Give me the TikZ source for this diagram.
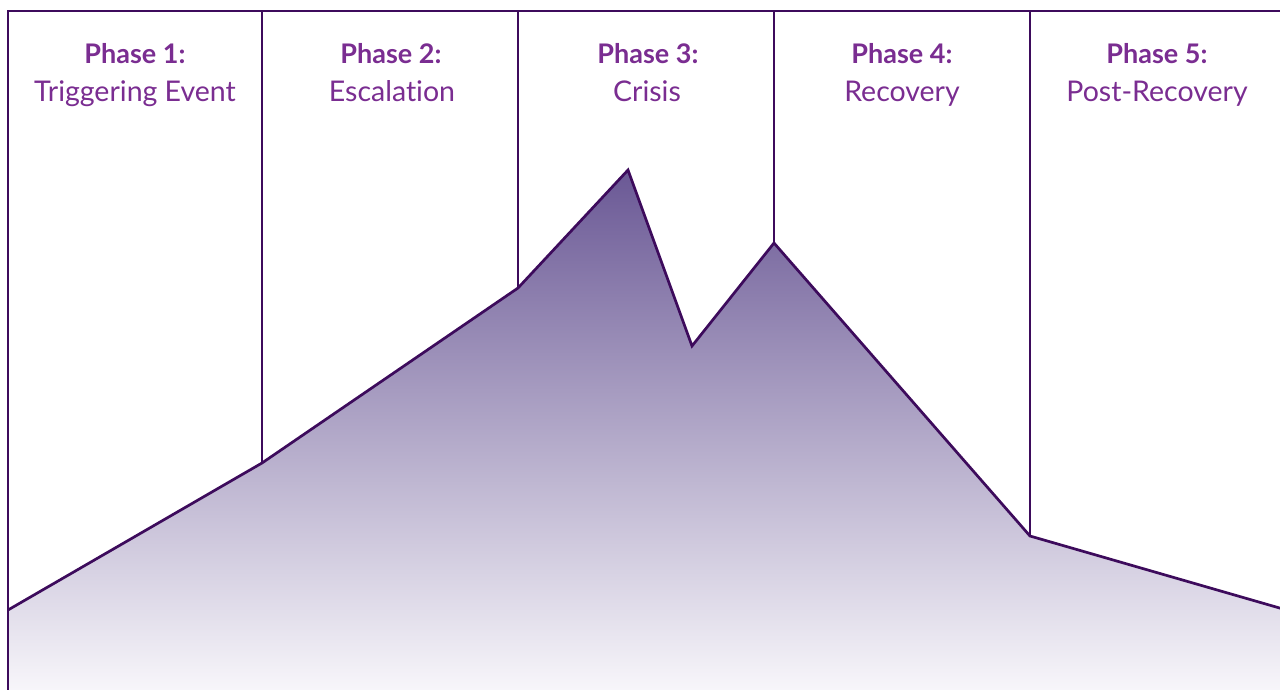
\documentclass[tikz,border=0pt]{standalone}
\usepackage{fontspec}
\setmainfont{Lato}[Ligatures={NoCommon,TeX}]
\definecolor{edge}{HTML}{3D0B5C}
\definecolor{label}{HTML}{7A2D91}
\definecolor{peak}{HTML}{6A5895}
\definecolor{base}{HTML}{FAF9FC}
\tikzset{
	title/.style={text=label, anchor=base, inner sep=0pt, font=\bfseries\fontsize{27}{32}\selectfont},
	subtitle/.style={text=label, anchor=base, inner sep=0pt, font=\fontsize{28.5}{34}\selectfont},
	border/.style={draw=edge, line width=2.7pt}
}
\begin{document}
\begin{tikzpicture}[x=1pt, y=-1pt]

	\useasboundingbox (0,0) rectangle (1280,689);
	\clip (0,0) rectangle (1280,689);

	% curve of the crisis
	\coordinate (P-0) at (8,610);
	\coordinate (P-1) at (262,463);
	\coordinate (P-2) at (518,288);
	\coordinate (P-3) at (628,170);
	\coordinate (P-4) at (692,346);
	\coordinate (P-5) at (774,243);
	\coordinate (P-6) at (1030,536);
	\coordinate (P-7) at (1290,611);

	\shade [top color=peak, bottom color=base]
	(P-0) -- (P-1) -- (P-2) -- (P-3) -- (P-4) -- (P-5) -- (P-6) -- (P-7)
	-- (1290,700) -- (8,700) -- cycle;
	\draw [border, line join=miter]
	(P-0) -- (P-1) -- (P-2) -- (P-3) -- (P-4) -- (P-5) -- (P-6) -- (P-7);

	% frame and phase borders
	\draw [border] (8,700) -- (8,11) -- (1290,11);
	\draw [border] (262,11) -- (P-1);
	\draw [border] (518,11) -- (P-2);
	\draw [border] (774,11) -- (P-5);
	\draw [border] (1030,11) -- (P-6);

	\node [title] (ph-1) at (135,63) {Phase 1:};
	\node [subtitle] (sub-1) at (135,101) {Triggering Event};
	\node [title] (ph-2) at (391,63) {Phase 2:};
	\node [subtitle] (sub-2) at (392,101) {Escalation};
	\node [title] (ph-3) at (648,63) {Phase 3:};
	\node [subtitle] (sub-3) at (647,101) {Crisis};
	\node [title] (ph-4) at (902,63) {Phase 4:};
	\node [subtitle] (sub-4) at (902,101) {Recovery};
	\node [title] (ph-5) at (1157,63) {Phase 5:};
	\node [subtitle] (sub-5) at (1157,101) {Post-Recovery};

\end{tikzpicture}
\end{document}
